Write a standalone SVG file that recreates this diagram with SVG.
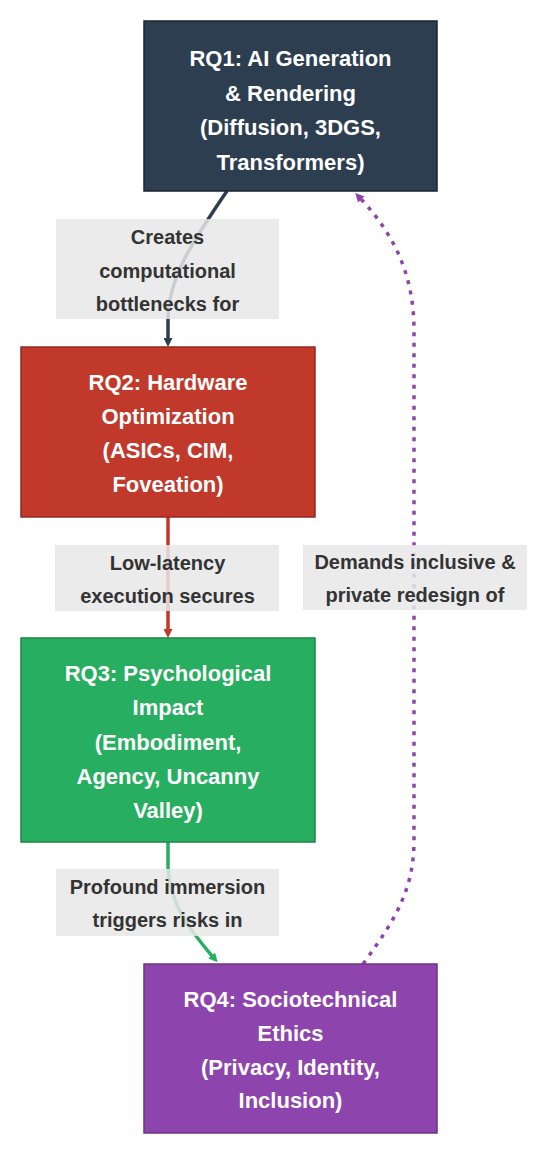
<svg xmlns="http://www.w3.org/2000/svg" width="550" height="1158" viewBox="0 0 550 1158">
  <style>
    .node text { font-family: "Liberation Sans", Arial, sans-serif; font-size: 22px; font-weight: bold; fill: #ffffff; text-anchor: middle; }
    .lbl rect { fill: #e8e8e8; fill-opacity: 0.85; }
    .lbl text { font-family: "Liberation Sans", Arial, sans-serif; font-size: 20px; font-weight: bold; fill: #333333; text-anchor: middle; }
    .edge { fill: none; stroke-width: 3.5; }
  </style>
  <defs>
    <marker id="m1" viewBox="0 0 9 9" markerWidth="9" markerHeight="9" refX="2" refY="4.5" orient="auto" markerUnits="userSpaceOnUse"><path d="M0,0 L9,4.5 L0,9 z" fill="#2c3e50"/></marker>
    <marker id="m2" viewBox="0 0 9 9" markerWidth="9" markerHeight="9" refX="2" refY="4.5" orient="auto" markerUnits="userSpaceOnUse"><path d="M0,0 L9,4.5 L0,9 z" fill="#c0392b"/></marker>
    <marker id="m3" viewBox="0 0 9 9" markerWidth="9" markerHeight="9" refX="2" refY="4.5" orient="auto" markerUnits="userSpaceOnUse"><path d="M0,0 L9,4.5 L0,9 z" fill="#27ae60"/></marker>
    <marker id="m4" viewBox="0 0 9 9" markerWidth="9" markerHeight="9" refX="2" refY="4.5" orient="auto" markerUnits="userSpaceOnUse"><path d="M0,0 L9,4.5 L0,9 z" fill="#8e44ad"/></marker>
  </defs>
  <rect width="550" height="1158" fill="#ffffff"/>

  <g id="connectors">
    <path class="edge" d="M227,191 C190,245 168,280 168,320 L168,340" stroke="#2c3e50" marker-end="url(#m1)"/>
    <path class="edge" d="M168,517 L168,631" stroke="#c0392b" marker-end="url(#m2)"/>
    <path class="edge" d="M168,842 L168,868 C170,905 190,930 213,957" stroke="#27ae60" marker-end="url(#m3)"/>
    <path class="edge" d="M363,964 C395,920 414,890 414,840 L414,330 C414,270 390,230 360,198" stroke="#8e44ad" stroke-dasharray="4 6.5" marker-end="url(#m4)"/>
    <g class="lbl">
      <rect x="56" y="219" width="223" height="100"/>
      <text x="167.5" y="244">Creates</text>
      <text x="167.5" y="278">computational</text>
      <text x="167.5" y="311">bottlenecks for</text>
    </g>
    <g class="lbl">
      <rect x="55" y="545" width="224" height="66"/>
      <text x="167.5" y="570">Low-latency</text>
      <text x="167.5" y="603">execution secures</text>
    </g>
    <g class="lbl">
      <rect x="56" y="869" width="223" height="67"/>
      <text x="167.5" y="894">Profound immersion</text>
      <text x="167.5" y="927">triggers risks in</text>
    </g>
    <g class="lbl">
      <rect x="303" y="545" width="224" height="65"/>
      <text x="415" y="569">Demands inclusive &amp;</text>
      <text x="415" y="602">private redesign of</text>
    </g>
  </g>

  <g id="rq1" class="node">
    <rect x="144" y="21" width="293" height="170" fill="#2c3e50" stroke="#1a252f" stroke-width="1.5"/>
    <text x="290.5" y="66">RQ1: AI Generation</text>
    <text x="290.5" y="101">&amp; Rendering</text>
    <text x="290.5" y="135">(Diffusion, 3DGS,</text>
    <text x="290.5" y="170">Transformers)</text>
  </g>
  <g id="rq2" class="node">
    <rect x="21" y="347" width="294" height="170" fill="#c0392b" stroke="#922b21" stroke-width="1.5"/>
    <text x="168" y="390">RQ2: Hardware</text>
    <text x="168" y="424">Optimization</text>
    <text x="168" y="458">(ASICs, CIM,</text>
    <text x="168" y="492">Foveation)</text>
  </g>
  <g id="rq3" class="node">
    <rect x="21" y="638" width="294" height="204" fill="#27ae60" stroke="#1e8449" stroke-width="1.5"/>
    <text x="168" y="681">RQ3: Psychological</text>
    <text x="168" y="715">Impact</text>
    <text x="168" y="750">(Embodiment,</text>
    <text x="168" y="784">Agency, Uncanny</text>
    <text x="168" y="818">Valley)</text>
  </g>
  <g id="rq4" class="node">
    <rect x="144" y="964" width="293" height="169" fill="#8e44ad" stroke="#6c3483" stroke-width="1.5"/>
    <text x="290.5" y="1007">RQ4: Sociotechnical</text>
    <text x="290.5" y="1041">Ethics</text>
    <text x="290.5" y="1075">(Privacy, Identity,</text>
    <text x="290.5" y="1108">Inclusion)</text>
  </g>
</svg>
